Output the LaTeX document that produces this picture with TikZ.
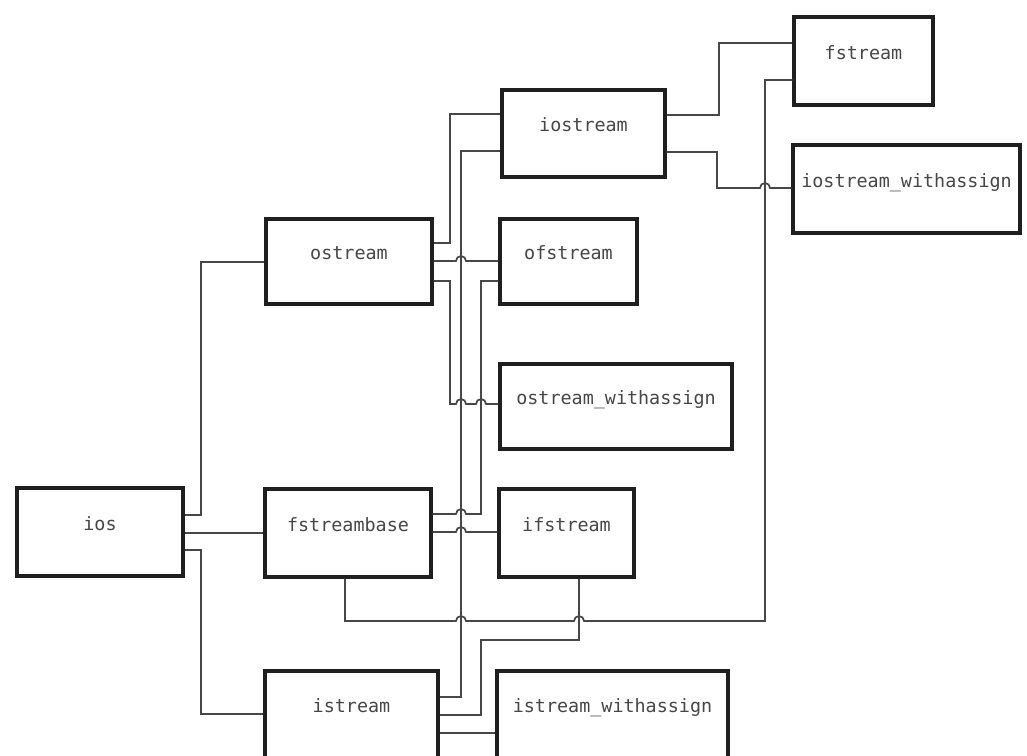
\documentclass[tikz,border=0pt]{standalone}
\usepackage{fontspec}
\newfontfamily\boxfont{DejaVu Sans Mono}
\begin{document}
\begin{tikzpicture}[x=1pt,y=-1pt,
  cls/.style={draw=black!88, line width=3.2pt, fill=white, inner sep=0pt,
    font=\boxfont\fontsize{18.4}{20}\selectfont, text=black!72,
    text height=10pt, text depth=14pt},
  link/.style={draw=black!72, line width=1.7pt}]
\useasboundingbox (0,0) rectangle (1027,755);
\clip (0,0) rectangle (1027,755);
\fill[white] (0,0) rectangle (1027,755);

% class boxes
\node[cls, minimum width=166pt, minimum height=88pt] (ios) at (100,532) {ios};
\node[cls, minimum width=166pt, minimum height=85pt] (ostream) at (349,261.5) {ostream};
\node[cls, minimum width=163pt, minimum height=87pt] (iostream) at (583.5,133.5) {iostream};
\node[cls, minimum width=139pt, minimum height=88pt] (fstream) at (863.5,61) {fstream};
\node[cls, minimum width=227pt, minimum height=88pt] (iowa) at (906.5,189) {iostream\_withassign};
\node[cls, minimum width=137pt, minimum height=85pt] (ofstream) at (568.5,261.5) {ofstream};
\node[cls, minimum width=232pt, minimum height=85pt] (owa) at (616,406.5) {ostream\_withassign};
\node[cls, minimum width=166pt, minimum height=88pt] (fsb) at (348,533) {fstreambase};
\node[cls, minimum width=135pt, minimum height=88pt] (ifstream) at (566.5,533) {ifstream};
\node[cls, minimum width=173pt, minimum height=87pt] (istream) at (351.5,714.5) {istream};
\node[cls, minimum width=231pt, minimum height=87pt] (iwa) at (612.5,714.5) {istream\_withassign};

% inheritance connectors (orthogonal, with hops over crossings)
\draw[link] (ios.east |- 0,515) -- (201,515) -- (201,262) -- (ostream.west |- 0,262);
\draw[link] (ios.east |- 0,533) -- (fsb.west |- 0,533);
\draw[link] (ios.east |- 0,550) -- (201,550) -- (201,714) -- (istream.west |- 0,714);

\draw[link] (ostream.east |- 0,243) -- (450,243) -- (450,114) -- (iostream.west |- 0,114);
\draw[link] (istream.east |- 0,697) -- (461,697) -- (461,151) -- (iostream.west |- 0,151);

\draw[link] (ostream.east |- 0,261) -- (456,261)
  arc[start angle=180, end angle=0, radius=5pt] -- (ofstream.west |- 0,261);
\draw[link] (ostream.east |- 0,281) -- (450,281) -- (450,404) -- (456,404)
  arc[start angle=180, end angle=0, radius=5pt] -- (476,404)
  arc[start angle=180, end angle=0, radius=5pt] -- (owa.west |- 0,404);

\draw[link] (fsb.east |- 0,514) -- (456,514)
  arc[start angle=180, end angle=0, radius=5pt] -- (481,514) -- (481,281)
  -- (ofstream.west |- 0,281);
\draw[link] (fsb.east |- 0,532) -- (456,532)
  arc[start angle=180, end angle=0, radius=5pt] -- (ifstream.west |- 0,532);

\draw[link] (fsb.south -| 345,0) -- (345,621) -- (456,621)
  arc[start angle=180, end angle=0, radius=5pt] -- (574,621)
  arc[start angle=180, end angle=0, radius=5pt] -- (765,621) -- (765,80)
  -- (fstream.west |- 0,80);
\draw[link] (istream.east |- 0,715) -- (481,715) -- (481,640) -- (579,640)
  -- (ifstream.south -| 579,0);
\draw[link] (istream.east |- 0,733) -- (iwa.west |- 0,733);

\draw[link] (iostream.east |- 0,115) -- (719,115) -- (719,43) -- (fstream.west |- 0,43);
\draw[link] (iostream.east |- 0,152) -- (717,152) -- (717,188) -- (760,188)
  arc[start angle=180, end angle=0, radius=5pt] -- (iowa.west |- 0,188);
\end{tikzpicture}
\end{document}
